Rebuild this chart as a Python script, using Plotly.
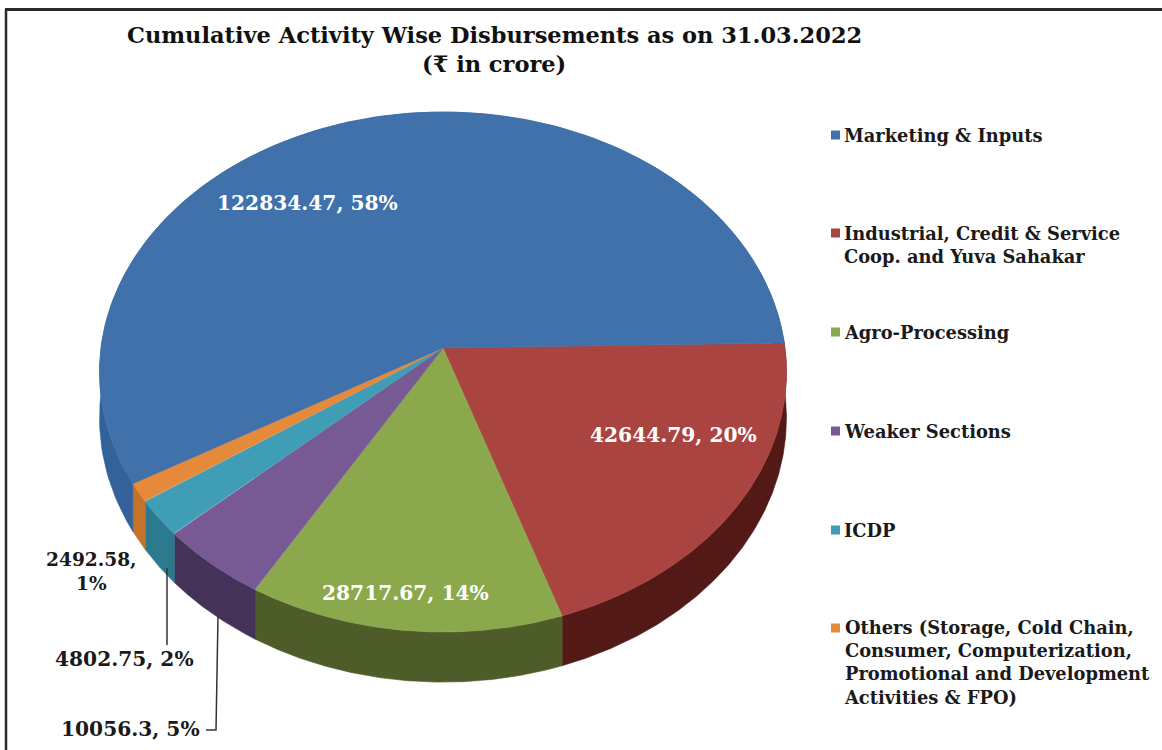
import numpy as np
import plotly.graph_objects as go

categories = ["Marketing & Inputs", "Industrial, Credit & Service<br>Coop. and Yuva Sahakar",
              "Agro-Processing", "Weaker Sections", "ICDP",
              "Others (Storage, Cold Chain,<br>Consumer, Computerization,<br>Promotional and Development<br>Activities & FPO)"]
values = [122834.47, 42644.79, 28717.67, 10056.3, 4802.75, 2492.58]
top_colors = ["#4071AB", "#AA4441", "#8BA84D", "#775A93", "#3F9EB5", "#E48A3A"]
side_colors = ["#33619A", "#521917", "#4D5C28", "#443259", "#2B7A8D", "#C4732B"]

# drawing order starts with red just above 3 o'clock going clockwise; blue closes the circle
draw_order = [1, 2, 3, 4, 5, 0]
CX, CY, RX, RY, K, DEPTH, ROTATION = 443, 348, 342, 257.8, 0.0923, 45.5, -1.1


def project(theta_deg, drop=0.0):
    t = np.radians(theta_deg)
    w = 1 - K * np.sin(t)
    return CX + RX * np.cos(t) / w, CY + RY * np.sin(t) / w + drop * DEPTH / w


total = sum(values)
fig = go.Figure()
start = ROTATION
wedges = []
for i in draw_order:
    sweep = 360 * values[i] / total
    wedges.append((i, start, start + sweep))
    start += sweep

# sides
for i, a, b in wedges:
    th = np.linspace(a, b, 160)
    x1, y1 = project(th)
    x2, y2 = project(th[::-1], 1.0)
    fig.add_trace(go.Scatter(x=np.r_[x1, x2, x1[0]], y=np.r_[y1, y2, y1[0]], mode="lines",
                             fill="toself", fillcolor=side_colors[i],
                             line=dict(width=0.6, color=side_colors[i]),
                             hoverinfo="skip", showlegend=False))
# tops
for i, a, b in wedges:
    th = np.linspace(a, b, 240)
    x1, y1 = project(th)
    fig.add_trace(go.Scatter(x=np.r_[CX, x1, CX], y=np.r_[CY, y1, CY], mode="lines",
                             fill="toself", fillcolor=top_colors[i],
                             line=dict(width=0.6, color=top_colors[i]),
                             hoverinfo="text", text=categories[i], showlegend=False))

FONT = "DejaVu Serif"
annotations = []


def add_text(x, y, text, size, color="#1a1a1a", anchor="center", align="center"):
    annotations.append(dict(x=x, y=y, xref="x", yref="y", text=f"<b>{text}</b>", showarrow=False,
                            xanchor=anchor, yanchor="middle", align=align,
                            font=dict(family=FONT, size=size, color=color)))


add_text(494, 35, "Cumulative Activity Wise Disbursements as on 31.03.2022", 22.5, "#111111")
add_text(494, 64, "(₹ in crore)", 22.5, "#111111")

labels = [f"{v}, {round(100 * v / total)}%" for v in values]
add_text(307, 203, labels[0], 20.2, "#ffffff")
add_text(673, 435, labels[1], 20.2, "#ffffff")
add_text(405, 593, labels[2], 20.2, "#ffffff")
add_text(130.5, 729, labels[3], 20.2)
add_text(124, 659, labels[4], 20.2)
add_text(91, 571, labels[5].replace(", ", ",<br>"), 18.6)

legend_y = [135, 244.5, 332, 431, 530, 662.5]
legend_key_y = [135, 233, 332, 431, 530, 628]
for c, y in zip(categories, legend_y):
    add_text(841.5, y, c, 17.85, "#1a1a1a", "left", "left")
fig.add_trace(go.Scatter(x=[835.5] * 6, y=legend_key_y, mode="markers", hoverinfo="skip", showlegend=False,
                         marker=dict(symbol="square", size=9, color=top_colors, line=dict(width=0))))

shapes = [
    dict(type="line", x0=5, y0=9.5, x1=1162, y1=9.5, line=dict(color="#2a2a2a", width=3)),
    dict(type="line", x0=6, y0=9, x1=6, y1=750, line=dict(color="#2a2a2a", width=2.5)),
    dict(type="line", x0=167, y0=568, x1=167, y1=645, line=dict(color="#333333", width=1.5)),
    dict(type="path", path="M218,616 L216,730 L206,730", line=dict(color="#333333", width=1.5)),
]

fig.update_layout(
    width=1162, height=750, margin=dict(l=0, r=0, t=0, b=0),
    paper_bgcolor="white", plot_bgcolor="white", showlegend=False,
    xaxis=dict(range=[0, 1162], visible=False, fixedrange=True),
    yaxis=dict(range=[750, 0], visible=False, fixedrange=True),
    annotations=annotations, shapes=shapes,
)
fig.write_html("out.html", config=dict(displayModeBar=False),
               post_script="document.body.style.margin='0';document.documentElement.style.overflow='hidden';")
